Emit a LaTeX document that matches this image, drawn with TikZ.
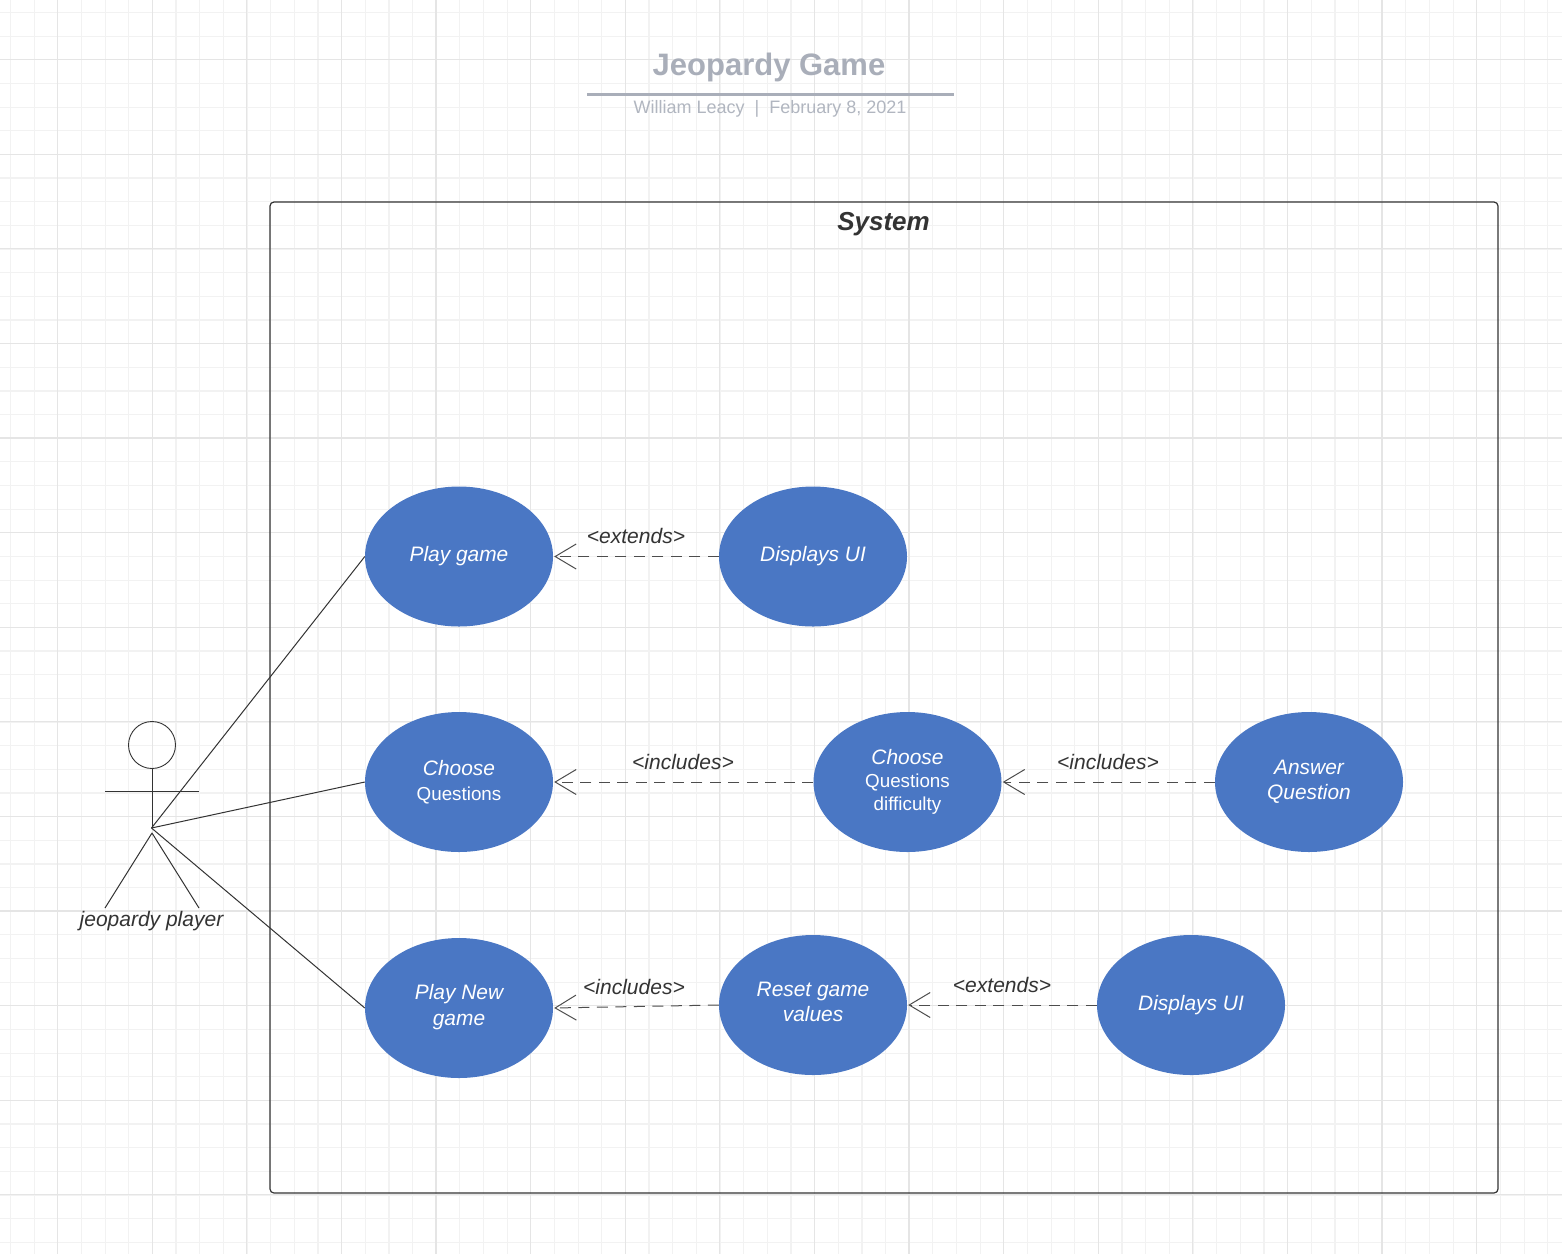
\documentclass[tikz,border=0pt]{standalone}
\usepackage{fontspec}
\setmainfont{Liberation Sans}
\usetikzlibrary{arrows.meta,shapes.geometric}
\definecolor{usecase}{HTML}{4A77C4}
\definecolor{inkline}{HTML}{333333}
\definecolor{depline}{HTML}{4D4D4D}
\definecolor{titlegray}{HTML}{A9AEB9}
\newcommand{\smalltextfont}{\fontsize{18.8}{23}\selectfont\upshape}
\tikzset{
    usecase/.style={ellipse,fill=usecase,minimum width=188pt,minimum height=140pt,inner sep=0pt,
        text=white,align=center,font=\fontsize{20.9}{25.5}\selectfont\itshape},
    deplabel/.style={text=inkline,font=\fontsize{21}{25}\selectfont\itshape,inner sep=0pt},
    dep/.style={draw=depline,line width=1pt,dash pattern=on 11pt off 7.5pt,shorten >=1pt,
        -{Straight Barb[length=21pt,width=25pt,line width=1pt]}},
    assoc/.style={draw=inkline,line width=1pt},
}
\begin{document}
\begin{tikzpicture}[x=1pt,y=-1pt,line join=round]
    \useasboundingbox (0,0) rectangle (1562,1254);
    \fill[white] (0,0) rectangle (1562,1254);
    % grid
    \foreach \i in {0,...,65}{
        \draw[black!5,line width=1.2pt] ({10.5+23.65*\i},0)--({10.5+23.65*\i},1254);
        \draw[black!5,line width=1.2pt] (0,{12.5+23.65*\i})--(1562,{12.5+23.65*\i});
    }
    \foreach \i in {0,...,16}{
        \draw[black!10,line width=1.2pt] ({57.5+94.6*\i},0)--({57.5+94.6*\i},1254);
        \draw[black!10,line width=1.2pt] (0,{59.5+94.6*\i})--(1562,{59.5+94.6*\i});
    }
    % title
    \node[text=titlegray,font=\fontsize{31}{36}\selectfont\bfseries,inner sep=0pt] (title) at (769,67) {Jeopardy Game};
    \coordinate (ruleL) at (587,94.5);
    \coordinate (ruleR) at (954,94.5);
    \draw[titlegray,line width=3pt] (ruleL)--(ruleR);
    \node[text=titlegray!90,font=\fontsize{18}{22}\selectfont,inner sep=0pt] (byline) at (770,109) {William Leacy\ \ |\ \ February 8, 2021};
    % system
    \draw[inkline,line width=1.2pt,rounded corners=4pt] (270,202) rectangle (1498,1193);
    \node[text=inkline,font=\fontsize{26}{30}\selectfont\bfseries\itshape,inner sep=0pt] (system) at (883.5,224) {System};
    % use cases
    \node[usecase] (play) at (459,556.5) {Play game};
    \node[usecase] (ui) at (813,556.5) {Displays UI};
    \node[usecase] (choose) at (459,782) {Choose\\[-1pt]{\smalltextfont Questions}};
    \node[usecase] (difficulty) at (907.5,782) {Choose\\[-2pt]{\smalltextfont Questions}\\[-2.5pt]{\smalltextfont difficulty}};
    \node[usecase] (answer) at (1309,782) {Answer\\Question};
    \node[usecase] (newgame) at (459,1008) {Play New\\game\\[-19.5pt]\mbox{}};
    \node[usecase] (reset) at (813,1005) {Reset game\\values\\[-19.5pt]\mbox{}};
    \node[usecase] (ui2) at (1191,1005) {Displays UI\\[-21.5pt]\mbox{}};
    % actor
    \node[circle,draw=inkline,line width=.9pt,minimum size=47pt,inner sep=0pt] (head) at (152,745) {};
    \coordinate (hip) at (151.5,828);
    \coordinate (crotch) at (152,833);
    \coordinate (armL) at (105,791);
    \coordinate (armR) at (199,791);
    \coordinate (footL) at (105,908);
    \coordinate (footR) at (199,908);
    \draw[assoc] (head)--(152,828);
    \draw[assoc] (armL)--(armR);
    \draw[assoc] (footL)--(crotch)--(footR);
    \node[deplabel] (actor) at (151.5,921) {jeopardy player};
    \draw[assoc] (hip)--(play.west);
    \draw[assoc] (hip)--(choose.west);
    \draw[assoc] (hip)--(newgame.west);
    % dependencies
    \draw[dep] (ui.west)--(play.east);
    \draw[dep] (difficulty.west)--(choose.east);
    \draw[dep] (answer.west)--(difficulty.east);
    \draw[dep] (reset.west)--(newgame.east);
    \draw[dep] (ui2.west)--(reset.east);
    \node[deplabel] (extendsA) at (636,536) {<extends>};
    \node[deplabel] (includesA) at (683,762) {<includes>};
    \node[deplabel] (includesB) at (1108,762) {<includes>};
    \node[deplabel] (includesC) at (634,987) {<includes>};
    \node[deplabel] (extendsB) at (1002,985) {<extends>};
\end{tikzpicture}
\end{document}
